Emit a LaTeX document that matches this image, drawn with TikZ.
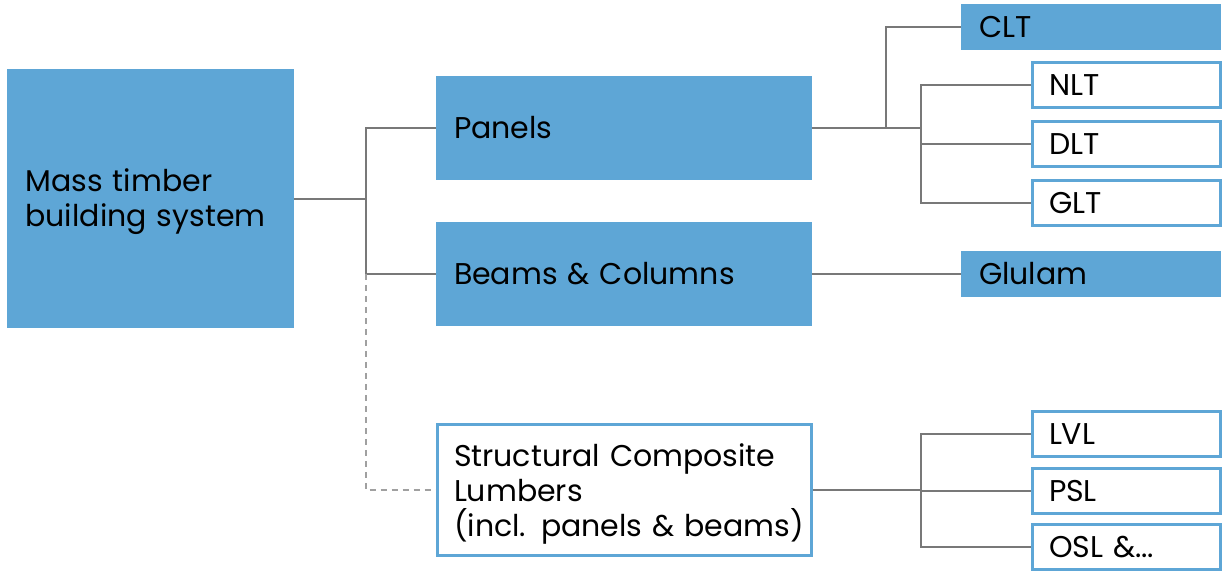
\documentclass[tikz,border=0pt]{standalone}
\usepackage{fontspec}
\setmainfont{Poppins}
\usepackage{tikz}

\definecolor{tblue}{RGB}{94,166,214}
\definecolor{lgray}{RGB}{120,120,120}

\begin{document}
\begin{tikzpicture}[x=0.5pt, y=-0.5pt,
    font=\fontsize{15}{17.5}\selectfont,
    solid box/.style={rectangle, fill=tblue, draw=tblue, line width=0.6pt,
        inner xsep=8.5pt, align=left, anchor=center},
    open box/.style={rectangle, fill=white, draw=tblue, line width=1.5pt,
        inner xsep=8.5pt, align=left, anchor=center},
    small box/.style={open box, minimum width=94pt, minimum height=22.5pt, text width=77pt},
    link/.style={draw=lgray, line width=1pt},
    dlink/.style={draw=lgray!70, line width=1pt, dash pattern=on 3pt off 2.5pt}]
    \useasboundingbox (0,0) rectangle (1222,571);

    % level 0 and 1
    \node[solid box, minimum width=142.5pt, minimum height=128.5pt, text width=125pt] (mass) at (150.5,198.5) {\rule{0pt}{15pt}Mass timber\\building system};
    \node[solid box, minimum width=187pt, minimum height=51pt, text width=170pt] (panels) at (624,128) {Panels};
    \node[solid box, minimum width=187pt, minimum height=51pt, text width=170pt] (beams) at (624,274) {Beams \& Columns};
    \node[open box, minimum width=187pt, minimum height=65.5pt, text width=170pt] (scl) at (624,490.5) {\rule{0pt}{15pt}Structural Composite\\Lumbers\\\mbox{(incl. panels \& beams)}};

    % products
    \node[solid box, minimum width=129pt, minimum height=22pt, text width=112pt] (clt) at (1091,27) {CLT};
    \node[solid box, minimum width=129pt, minimum height=22pt, text width=112pt] (glulam) at (1091,274) {Glulam};
    \foreach \name/\txt/\y in {nlt/NLT/85.5, dlt/DLT/144.5, glt/GLT/203, lvl/LVL/434, psl/PSL/491}
        \node[small box] (\name) at (1126,\y) {\txt};
    \node[small box] (osl) at (1126,547.5) {OSL \&...};

    % connectors
    \coordinate (j0) at (366,199);
    \coordinate (j1) at (886,128);
    \coordinate (j2) at (921,128);
    \coordinate (j3) at (921,490.5);

    \draw[link] (mass.east |- j0) -- (j0);
    \draw[link] (j0) |- (panels.west);
    \draw[link] (j0) |- (beams.west);
    \draw[dlink] (366,274) |- (scl.west);

    \draw[link] (panels.east) -- (j2);
    \draw[link] (j1) |- (clt.west);
    \foreach \n in {nlt, dlt, glt}
        \draw[link] (j2) |- (\n.west);

    \draw[link] (beams.east) -- (glulam.west);

    \draw[link] (scl.east) -- (j3);
    \foreach \n in {lvl, psl, osl}
        \draw[link] (j3) |- (\n.west);

\end{tikzpicture}
\end{document}
